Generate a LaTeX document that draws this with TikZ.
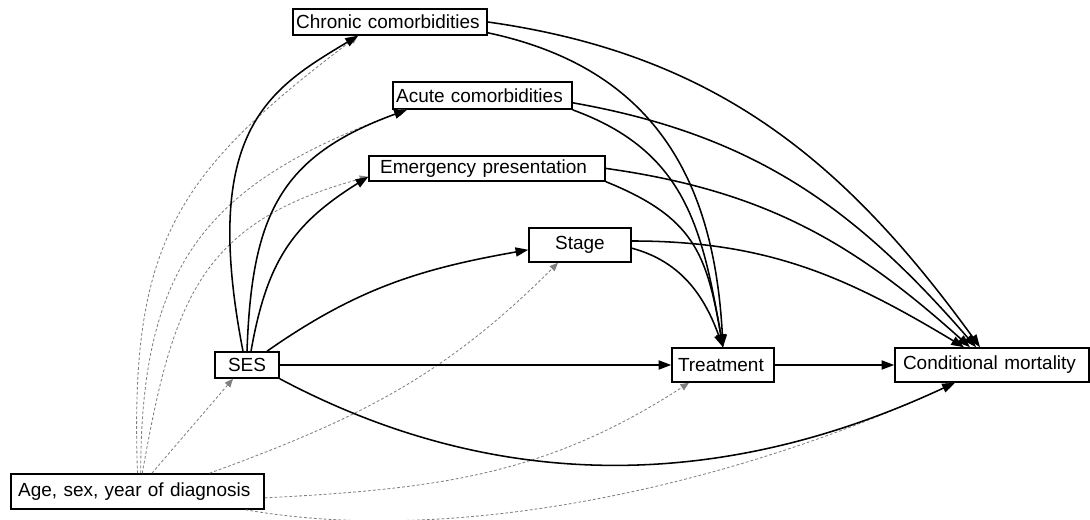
\documentclass[tikz,border=0pt]{standalone}
\usepackage{fontspec}
\setmainfont{Liberation Sans}
\usetikzlibrary{arrows.meta}
\tikzset{>={Triangle[length=9pt,width=6.5pt]}}
\tikzstyle{var}      = [draw,
                        rectangle,
                        line width=1.1pt,
                        minimum height=0.65cm,
                        inner xsep=0.17cm,
                        inner ysep=0pt,
                        align=left,
                        font=\fontsize{13.5}{15}\selectfont]
\tikzstyle{cause}    = [->,
                        line width=1.1pt]
\tikzstyle{confound} = [-{Triangle[length=6pt,width=5pt]},
                        black!50,
                        line width=0.6pt,
                        dash pattern=on 2pt off 1.5pt]
\begin{document}
\begin{tikzpicture}

  \useasboundingbox (0,0) rectangle (27.25,13);

  % Nodes
  \node[var, inner xsep=0.08cm, text width=4.69cm] (chronic) at (9.75,12.45) {Chronic comorbidities};
  \node[var, inner xsep=0.08cm, text width=4.315cm, minimum height=0.675cm] (acute) at (12.06,10.61) {Acute comorbidities};
  \node[var, inner xsep=0.28cm, text width=5.34cm, minimum height=0.625cm] (emerg) at (12.175,8.79) {Emergency presentation};
  \node[var, align=center, minimum width=2.55cm, minimum height=0.85cm] (stage) at (14.5,6.875) {Stage};
  \node[var, align=center, minimum width=1.6cm] (ses) at (6.175,3.875) {SES};
  \node[var, inner xsep=0.15cm, text width=2.25cm, minimum height=0.85cm] (treat) at (18.075,3.875) {Treatment};
  \node[var, inner xsep=0.2cm, text width=4.45cm, minimum height=0.85cm] (mort) at (24.8,3.875) {Conditional mortality};
  \node[var, inner xsep=0.18cm, text width=5.965cm, minimum height=0.875cm] (age) at (3.4375,0.7125) {Age, sex, year of diagnosis};

  % Edges (confounders first, so the solid arrows sit on top)
  \draw[confound] (age.north) to[out=92, in=217, looseness=1.2] ([xshift=-0.8cm]chronic.south);
  \draw[confound] ([xshift=0.08cm]age.north) to[out=90, in=200, looseness=1.2] ([xshift=-1.89cm]acute.south);
  \draw[confound] ([xshift=0.12cm]age.north) to[out=80, in=195, looseness=1.2] ([yshift=-0.21cm]emerg.west);
  \draw[confound] ([xshift=0.36cm]age.north) -- ([xshift=-0.35cm]ses.south);
  \draw[confound] ([xshift=1.8cm]age.north) to[out=20, in=225] ([xshift=-0.55cm]stage.south);
  \draw[confound] ([yshift=-0.16cm]age.east) to[out=3, in=213] ([xshift=-0.85cm]treat.south);
  \draw[confound] ([xshift=2.7cm]age.south) to[out=-10, in=205, looseness=0.8] ([xshift=-0.93cm]mort.south);

  \draw[cause] ([xshift=-0.1cm]ses.north) to[out=101, in=211, out distance=5.65cm, in distance=2.57cm] ([xshift=-0.8cm]chronic.south);
  \draw[cause] (ses.north) to[out=88, in=200, looseness=1.2] ([xshift=-1.89cm]acute.south);
  \draw[cause] ([xshift=0.1cm]ses.north) to[out=80, in=212, looseness=1.1] ([yshift=-0.21cm]emerg.west);
  \draw[cause] ([xshift=0.5cm]ses.north) to[out=35, in=190] ([yshift=-0.12cm]stage.west);
  \draw[cause] (ses) -- (treat);
  \draw[cause] (ses.south east) to[out=-28, in=205, looseness=0.95] ([xshift=-0.93cm]mort.south);
  \draw[cause] (treat) -- (mort);

  \draw[cause] ([yshift=-0.27cm]chronic.east) to[out=-12, in=93, looseness=1.1] (treat.north);
  \draw[cause] (chronic.east) to[out=-8, in=126] ([xshift=-0.3cm]mort.north);
  \draw[cause] (acute.south east) to[out=-20, in=100, looseness=1.1] (treat.north);
  \draw[cause] ([yshift=-0.18cm]acute.east) to[out=-10, in=131] ([xshift=-0.4cm]mort.north);
  \draw[cause] (emerg.south east) to[out=-22, in=100, looseness=1.2] (treat.north);
  \draw[cause] (emerg.east) to[out=-8, in=138] ([xshift=-0.55cm]mort.north);
  \draw[cause] ([yshift=-0.08cm]stage.east) to[out=-15, in=110] (treat.north);
  \draw[cause] ([yshift=0.1cm]stage.east) to[out=0, in=149] ([xshift=-0.7cm]mort.north);

\end{tikzpicture}
\end{document}
